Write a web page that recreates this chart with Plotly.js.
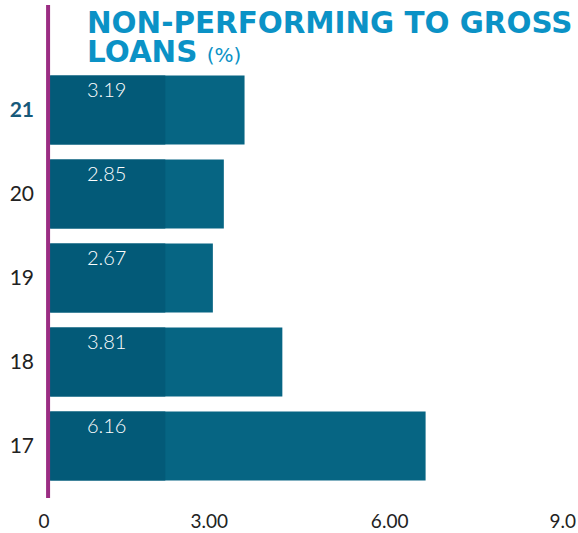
<!DOCTYPE html>
<html>
<head>
<meta charset="utf-8">
<script src="https://cdn.plot.ly/plotly-3.0.1.min.js"></script>
<style>html,body{margin:0;padding:0;background:#fff;}#chart{width:578px;height:533px;}</style>
</head>
<body>
<div id="chart"></div>
<script>
// Data
const years = ['17', '18', '19', '20', '21'];
const npl = [6.16, 3.81, 2.67, 2.85, 3.19];
const yearLabels = ['17', '18', '19', '20', "<b><span style='color:#16597a'>21</span></b>"];
const xTickText = ['0', '3.00', '6.00', '9.0'];
const xTickPos = [-0.1, 2.61, 5.57, 8.41];

const darkSplit = 1.89;
const darkPart = npl.map(v => Math.min(v, darkSplit));

const traces = [
  {type: 'bar', orientation: 'h', y: years, x: npl,
   marker: {color: '#066583'}, hoverinfo: 'skip'},
  {type: 'bar', orientation: 'h', y: years, x: darkPart,
   marker: {color: '#035a78'}, hoverinfo: 'skip'}
];

// value labels (y given as category index)
const annotations = years.map((y, i) => ({
  x: 0.93, y: i, xref: 'x', yref: 'y', text: npl[i].toFixed(2),
  showarrow: false, yshift: 21,
  font: {family: 'Lato, Open Sans, sans-serif', size: 20, color: '#ffffff', weight: 300}
}));

annotations.push({
  xref: 'paper', yref: 'paper', x: 0.077, y: 1.152, xanchor: 'left', yanchor: 'top',
  align: 'left', showarrow: false,
  text: "<b>NON-PERFORMING TO GROSS</b>",
  font: {family: 'DejaVu Sans, sans-serif', size: 29.4, color: '#0b92c6'}
});
annotations.push({
  xref: 'paper', yref: 'paper', x: 0.077, y: 1.083, xanchor: 'left', yanchor: 'top',
  align: 'left', showarrow: false,
  text: "<b>LOANS</b> <span style='font-size:20px;font-weight:400'>(%)</span>",
  font: {family: 'DejaVu Sans, sans-serif', size: 29.4, color: '#0b92c6'}
});

const layout = {
  width: 578, height: 533,
  margin: {l: 44, r: 0, t: 68, b: 45},
  paper_bgcolor: '#ffffff', plot_bgcolor: '#ffffff',
  barmode: 'overlay', bargap: 0.18, showlegend: false,
  xaxis: {range: [-0.1, 8.66], showgrid: false, zeroline: false, showline: false,
          tickmode: 'array', tickvals: xTickPos, ticktext: xTickText,
          ticks: '', ticklabelstandoff: 20,
          tickfont: {family: 'Lato, Open Sans, sans-serif', size: 19, color: '#222222'}},
  yaxis: {type: 'category', categoryorder: 'array', categoryarray: years,
          range: [-0.5, 4.5], showgrid: false, zeroline: false, showline: false,
          tickmode: 'array', tickvals: years, ticktext: yearLabels,
          ticks: '', ticklabelstandoff: 9,
          tickfont: {family: 'Lato, Open Sans, sans-serif', size: 21, color: '#222222'}},
  shapes: [{type: 'line', xref: 'x', yref: 'paper', x0: -0.033, x1: -0.033,
            y0: -0.024, y1: 1.15, line: {color: '#9b2d83', width: 4}}],
  annotations: annotations
};

Plotly.newPlot('chart', traces, layout, {displayModeBar: false, staticPlot: true});
</script>
</body>
</html>
